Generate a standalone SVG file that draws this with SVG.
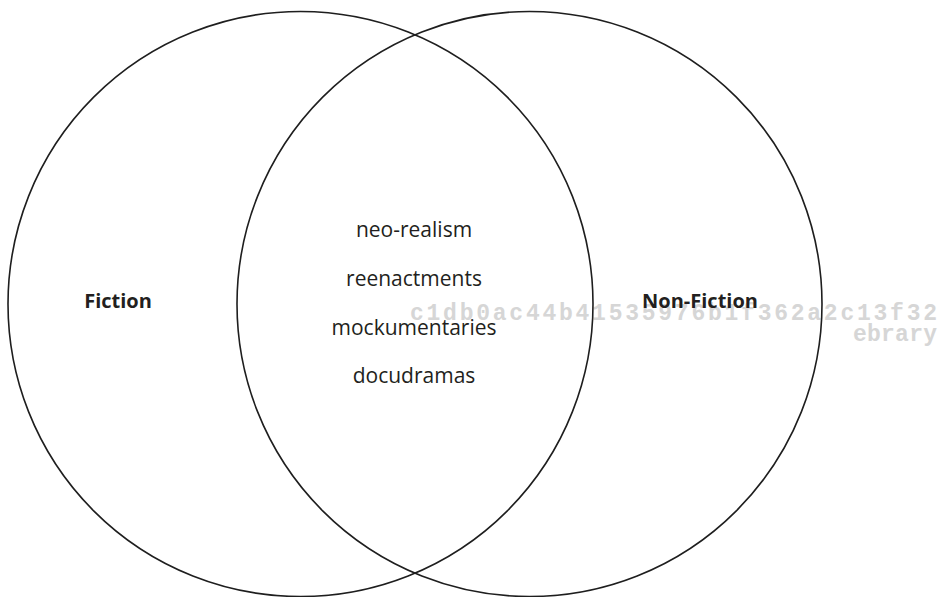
<svg xmlns="http://www.w3.org/2000/svg" width="941" height="597" viewBox="0 0 941 597">
<style>
.c{fill:none;stroke:#1e1e1e;stroke-width:1.6}
.t{font-family:"Open Sans","Noto Sans",sans-serif;font-size:21px;fill:#231f20;text-anchor:middle}
.b{font-weight:bold;font-size:20px}
.w{font-family:"Liberation Mono","DejaVu Sans Mono",monospace;font-weight:bold;font-size:23px;fill:#d6d6d6}
</style>
<rect width="941" height="597" fill="#fff"/>
<g id="watermark">
<text class="w" x="410" y="320" textLength="527" lengthAdjust="spacing">c1db0ac44b41535976b1f362a2c13f32</text>
<text class="w" x="853" y="341" textLength="84" lengthAdjust="spacing">ebrary</text>
</g>
<g id="fiction">
<circle class="c" cx="300.5" cy="304" r="292.5"/>
<text class="t b" x="118" y="308">Fiction</text>
</g>
<g id="nonfiction">
<circle class="c" cx="529.5" cy="304" r="292.5"/>
<text class="t b" x="700" y="308">Non-Fiction</text>
</g>
<g id="overlap">
<text class="t" x="414" y="237">neo-realism</text>
<text class="t" x="414" y="286">reenactments</text>
<text class="t" x="414" y="335">mockumentaries</text>
<text class="t" x="414" y="383">docudramas</text>
</g>
</svg>
